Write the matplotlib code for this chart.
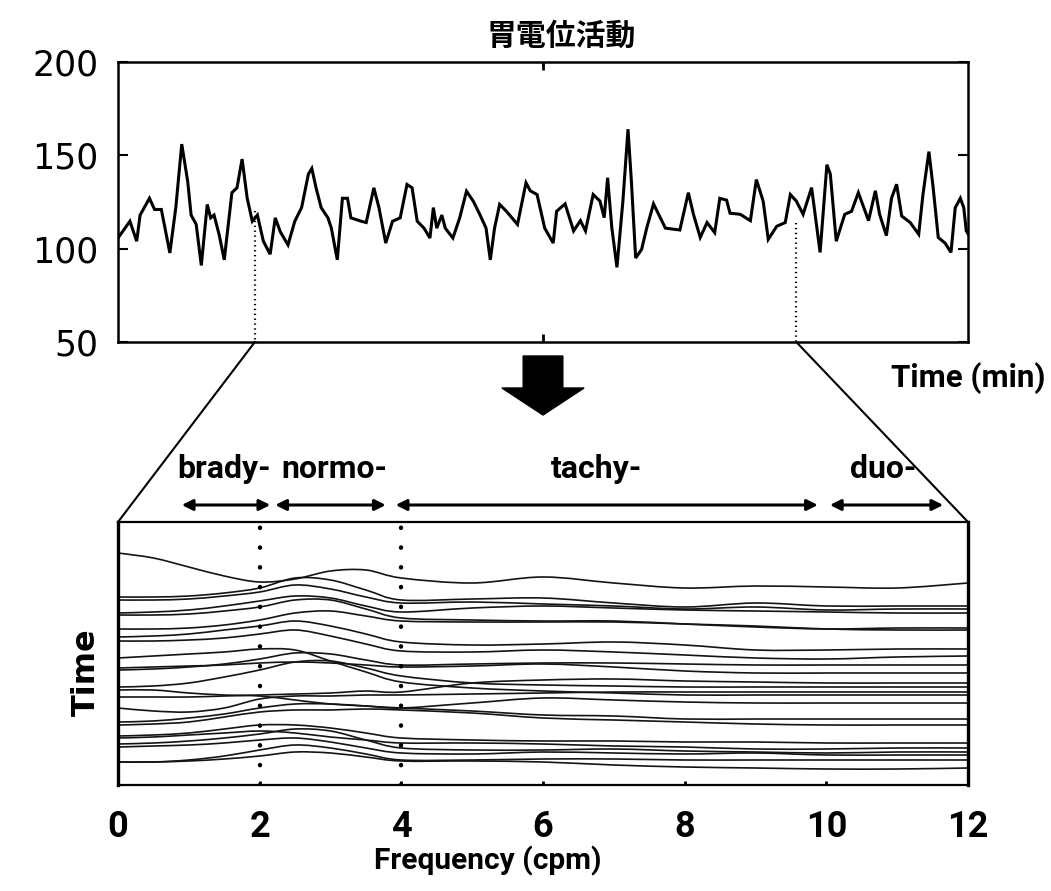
import matplotlib
matplotlib.use('Agg')
import matplotlib.pyplot as plt
from matplotlib.patches import ConnectionPatch, Polygon, PathPatch
from matplotlib.path import Path
import numpy as np

# ---------------- data ----------------
# top trace: time (0-100, arbitrary units across the window) and amplitude
top_t = [0, 1.4, 2.2, 2.6, 3.7, 4.3, 5.1, 6.1, 6.8, 7.5, 8.2, 8.6, 9.2, 9.8, 10.5, 10.9, 11.3, 11.9, 12.5, 13.4,
         14.0, 14.6, 15.2, 15.8, 16.4, 17.1, 17.9, 18.5, 19.1, 20.0, 20.8, 21.6, 22.4, 22.8, 23.3, 23.9, 24.7, 25.1, 25.8, 26.4,
         27.0, 27.4, 28.6, 29.2, 30.1, 30.7, 31.5, 32.3, 33.2, 34.0, 34.6, 35.2, 36.0, 36.7, 37.1, 37.5, 38.1, 38.5, 39.4, 40.2,
         41.0, 41.8, 42.6, 43.3, 43.8, 44.3, 44.9, 45.7, 47.0, 48.0,
         48.5, 49.3, 50.2, 51.2, 51.6, 52.6, 53.6, 54.4, 55.0, 55.9, 56.7, 57.2, 57.6, 58.1, 58.7, 59.4, 60.0, 60.4, 60.9, 61.6,
         62.2, 63.0, 63.6, 64.4, 66.1, 67.1, 67.7, 68.5, 69.3, 70.2, 70.8, 71.6, 72.0, 73.2, 74.4, 75.1, 75.9, 76.5, 77.5, 78.5,
         79.1, 79.8, 80.6, 81.6, 82.6, 83.4, 83.8, 84.5, 85.5, 86.3, 87.1, 88.3, 89.1, 89.6, 90.4, 91.0, 91.6, 92.2, 93.2, 94.2,
         94.7, 95.4, 95.9, 96.5, 97.3, 98.0, 98.5, 99.1, 99.5, 99.8, 100]
top_v = [105.7, 114.7, 104, 118, 127, 121, 121, 97.7, 122, 156, 136, 118, 113, 91, 123.7, 116.5, 118, 107.5, 94, 130,
         132.6, 148, 127, 114.7, 118, 104, 97, 116.5, 109, 102, 114.7, 122, 140, 143, 132.6, 122, 116.5, 111, 94, 127,
         127, 116.5, 114.7, 114, 132.6, 122, 103, 114.7, 116.5, 134.4, 132.6, 114.7, 111, 105.7, 122, 111, 118, 111, 105.7, 116.5,
         130.8, 125.4, 118, 111, 94, 111, 123.7, 120, 113, 135.3,
         131, 129, 111, 103, 120, 124, 109.5, 115, 109.5, 129, 125.5, 116.6, 138, 111, 90, 125.5, 164, 136, 95, 99.6,
         111, 124, 118.4, 111, 110, 130, 118.4, 106, 114, 108.6, 127, 126, 119, 118.4, 115, 137, 125.5, 105, 112, 114,
         129, 125.5, 118.4, 132.7, 98, 145, 140, 104, 118.4, 120, 130, 115, 131, 118.4, 107, 127, 134.5, 117.5, 114, 107.7,
         129, 152, 132.7, 106, 103, 98, 122, 127, 122, 109.5, 108]
top_yticks = [50, 100, 150, 200]
window_t = [16.1, 79.8]          # analysis window edges (dotted lines)
window_v = [120, 114]           # trace level where dotted lines start

# bottom waterfall: frequency grid (cpm) and one row per spectrum (row position, screen-down units)
freq = [0, 0.5, 1, 1.5, 2, 2.5, 3, 3.5, 4, 5, 6, 7, 8, 9, 10, 11, 12]
spectra = [
    [553, 558, 567, 576, 582, 579, 571, 570, 578, 583, 577, 583, 588, 586, 587, 588, 583],
    [597, 597, 596, 593, 588, 578, 580, 590, 600, 599, 598, 603, 607, 603, 606, 606, 606],
    [600, 600, 599, 596, 592, 585, 589, 597, 603, 602, 604, 606, 609, 607, 610, 609, 609],
    [613, 612, 610, 606, 601, 596, 598, 606, 612, 608, 606, 608, 610, 611, 612, 613, 613],
    [615, 615, 614, 611, 607, 600, 600, 609, 618, 620, 621, 621, 624, 627, 629, 628, 628],
    [629, 629, 628, 625, 620, 613, 611, 616, 621, 622, 622, 622, 624, 626, 629, 630, 630],
    [637, 636, 634, 630, 626, 621, 626, 634, 642, 645, 644, 642, 645, 650, 650, 649, 649],
    [641, 641, 640, 638, 634, 630, 636, 644, 651, 652, 650, 652, 655, 658, 659, 657, 656],
    [658, 656, 654, 652, 649, 650, 661, 672, 682, 688, 691, 693, 695, 695, 695, 695, 695],
    [668, 667, 666, 665, 663, 662, 663, 665, 667, 666, 664, 667, 671, 673, 673, 673, 673],
    [670, 669, 667, 664, 659, 653, 654, 660, 665, 664, 663, 663, 664, 665, 665, 665, 665],
    [687, 686, 683, 677, 670, 662, 661, 668, 676, 683, 685, 686, 687, 687, 687, 687, 687],
    [697, 697, 697, 696, 695, 694, 693, 691, 692, 683, 680, 679, 681, 682, 683, 683, 683],
    [708, 711, 712, 708, 699, 696, 696, 695, 695, 694, 693, 692, 692, 692, 692, 692, 692],
    [690, 690, 693, 695, 696, 700, 704, 706, 708, 703, 698, 700, 702, 703, 703, 703, 703],
    [722, 721, 718, 714, 708, 704, 704, 706, 708, 711, 715, 716, 719, 719, 719, 719, 719],
    [725, 724, 722, 717, 712, 710, 710, 709, 710, 713, 718, 720, 722, 724, 725, 725, 725],
    [736, 735, 733, 729, 725, 725, 728, 733, 738, 740, 741, 741, 742, 742, 743, 743, 743],
    [738, 737, 735, 733, 731, 733, 737, 740, 743, 743, 744, 746, 747, 749, 749, 748, 748],
    [744, 743, 741, 738, 734, 729, 731, 740, 748, 750, 750, 749, 751, 752, 753, 752, 752],
    [747, 746, 745, 743, 740, 738, 742, 748, 753, 754, 752, 753, 754, 753, 755, 755, 755],
    [762, 762, 760, 756, 750, 745, 748, 754, 760, 760, 759, 759, 760, 760, 760, 760, 760],
    [762, 762, 761, 759, 756, 752, 753, 757, 761, 761, 762, 765, 767, 768, 769, 769, 768],
]
freq_ticks = [0, 2, 4, 6, 8, 10, 12]
band_edges = [2, 4]
band_names = ['brady-', 'normo-', 'tachy-', 'duo-']
band_arrows = [(0.9, 2.15), (2.22, 3.78), (3.92, 9.88), (10.05, 11.65)]
band_label_x = [1.5, 3.05, 6.75, 10.8]

# ---------------- figure ----------------
NARROW = ['Roboto', 'DejaVu Sans']
plt.rcParams['font.family'] = ['DejaVu Sans']

W, H = 1051, 891
fig = plt.figure(figsize=(W / 100, H / 100), dpi=100)
ax1 = fig.add_axes([118 / W, 1 - 342 / H, 850 / W, 280 / H])
ax2 = fig.add_axes([118 / W, 1 - 785 / H, 850 / W, 263 / H])

# top trace
ax1.plot(top_t, top_v, color='k', lw=2.2, solid_joinstyle='miter')
for t, v in zip(window_t, window_v):
    ax1.plot([t, t], [v, 50], color='k', lw=1.6, linestyle=(0, (0.6, 1.6)))
ax1.set_xlim(0, 100)
ax1.set_ylim(50, 200)
ax1.set_yticks(top_yticks)
ax1.set_yticklabels([str(v) for v in top_yticks], fontsize=25)
ax1.set_xticks([50])
ax1.tick_params(axis='y', direction='in', length=7, width=1.5, left=True, right=True, pad=14)
ax1.tick_params(axis='x', direction='in', length=6, width=2, top=True, bottom=True, labelbottom=False)
for s in ax1.spines.values():
    s.set_linewidth(1.8)

fig.text(561 / W, 1 - 36 / H, '胃電位活動', fontsize=21.5, fontweight='bold',
         family=['Noto Sans CJK JP', 'DejaVu Sans'], ha='center', va='center')


def smooth_path(xs, ys):
    P = np.column_stack([xs, ys]).astype(float)
    n = len(P)
    verts = [P[0]]
    codes = [Path.MOVETO]
    for i in range(n - 1):
        p0 = P[i - 1] if i > 0 else P[i]
        p1, p2 = P[i], P[i + 1]
        p3 = P[i + 2] if i + 2 < n else P[i + 1]
        verts += [p1 + (p2 - p0) / 6, p2 - (p3 - p1) / 6, p2]
        codes += [Path.CURVE4] * 3
    return Path(verts, codes)


for row in spectra:
    ax2.add_patch(PathPatch(smooth_path(freq, row), fill=False, lw=1.2, edgecolor='0.08'))

for e in band_edges:
    ax2.plot([e, e], [785, 522], color='k', lw=3.2, linestyle=(0, (0.05, 4.4)), dash_capstyle='round')

ax2.set_xlim(0, 12)
ax2.set_ylim(785, 522)
ax2.set_yticks([])
ax2.set_xticks(freq_ticks)
ax2.set_xticklabels([str(v) for v in freq_ticks], fontsize=26, fontweight='bold', family=NARROW)
ax2.tick_params(axis='x', direction='in', length=3, width=2, pad=17)
for s in ax2.spines.values():
    s.set_linewidth(1.6)
ax2.spines['left'].set_linewidth(2.4)
ax2.spines['right'].set_linewidth(2.4)

fig.text(488 / W, 1 - 861 / H, 'Frequency (cpm)', fontsize=21.5, fontweight='bold', family=NARROW,
         ha='center', va='center')
fig.text(86 / W, 1 - 672 / H, 'Time', fontsize=23, fontweight='bold', rotation=90, ha='center', va='center')

# band arrows and labels
for (a, b), name, lx in zip(band_arrows, band_names, band_label_x):
    ax2.annotate('', xy=(b, 505), xytext=(a, 505), xycoords='data', annotation_clip=False,
                 arrowprops=dict(arrowstyle='<|-|>', lw=2.2, color='k', mutation_scale=16, shrinkA=0, shrinkB=0))
    ax2.text(lx, 469, name, fontsize=23, fontweight='bold', family=NARROW, ha='center', va='center', clip_on=False)

# connector lines (zoom trapezoid)
for t, f in zip(window_t, [0, 12]):
    cp = ConnectionPatch(xyA=(t, 50), coordsA=ax1.transData, xyB=(f, 522), coordsB=ax2.transData,
                         color='k', lw=1.5)
    fig.add_artist(cp)

# big down arrow
arrow = Polygon([(5.72, 356), (6.28, 356), (6.28, 388), (6.58, 388), (6.0, 415), (5.42, 388), (5.72, 388)],
                closed=True, facecolor='k', edgecolor='k', transform=ax2.transData)
arrow.set_clip_on(False)
fig.add_artist(arrow)

ax2.text(13.09, 378, 'Time (min)', fontsize=22.5, fontweight='bold', family=NARROW, ha='right', va='center',
         clip_on=False)

fig.savefig('out.png', dpi=100, facecolor='white')
